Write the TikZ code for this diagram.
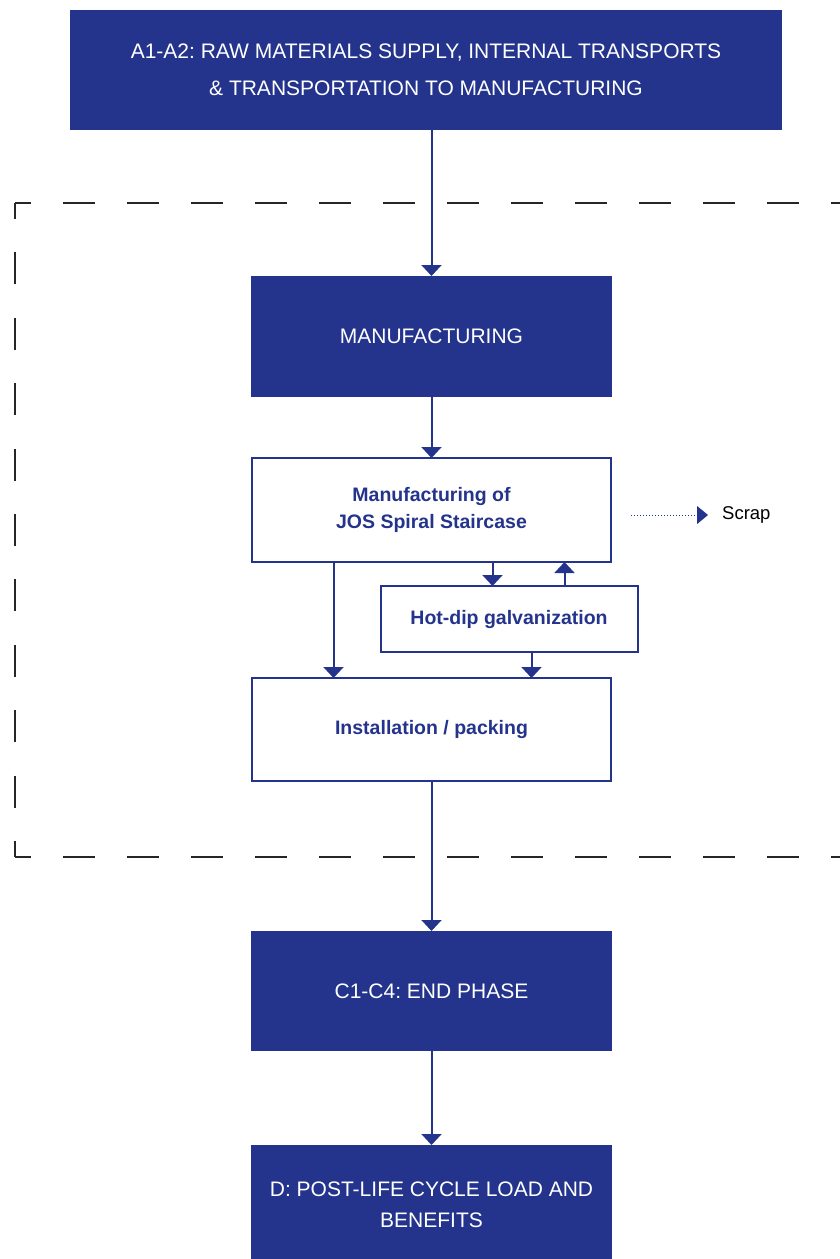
\documentclass[tikz,border=0pt]{standalone}
\usepackage{fontspec}
\setmainfont{Liberation Sans}
\usepackage{xcolor}
\usetikzlibrary{arrows.meta, positioning}
\definecolor{josblue}{RGB}{36,52,140}
\frenchspacing

\begin{document}
\begin{tikzpicture}[
    x=1pt, y=-1pt,
    % Estilos de nodos
    phase/.style={rectangle, fill=josblue, text=white, minimum width=361pt, minimum height=120pt, inner sep=0pt, outer sep=0pt, align=center, font=\fontsize{21}{31}\selectfont},
    stepbox/.style={rectangle, draw=josblue, line width=2pt, fill=white, text=josblue, minimum width=359pt, inner sep=0pt, outer sep=0pt, align=center, font=\bfseries\fontsize{19.5}{27}\selectfont},
    arrow/.style={draw=josblue, line width=2pt, -{Triangle[width=20pt, length=11pt]}},
    scrapline/.style={draw=josblue, line width=1pt, dash pattern=on 1pt off 2pt, -{Triangle[width=18pt, length=11pt, sep=-1pt]}},
    boundary/.style={line width=1.5pt, black!85}
]
\useasboundingbox (0,0) rectangle (840,1259);

% Limite del sistema
\draw[boundary, dash pattern=on 32pt off 32pt, dash phase=16pt] (15,203) -- (860,203);
\draw[boundary, dash pattern=on 32pt off 33.4pt, dash phase=16pt] (15,203) -- (15,857);
\draw[boundary, dash pattern=on 32pt off 32pt, dash phase=16pt] (15,857) -- (860,857);

% Fases
\node[phase, minimum width=712pt, font=\fontsize{21}{37}\selectfont] (supply) at (426,70) {A1-A2: RAW MATERIALS SUPPLY, INTERNAL TRANSPORTS\\\& TRANSPORTATION TO MANUFACTURING};
\node[phase, minimum height=121pt, below=146pt of supply, xshift=5.5pt] (manuf) {MANUFACTURING};

% Procesos
\node[stepbox, minimum height=104pt, below=61pt of manuf] (jos) {Manufacturing of\\JOS Spiral Staircase};
\node[stepbox, minimum width=257pt, minimum height=66pt, below=24pt of jos, xshift=77.5pt] (hotdip) {Hot-dip galvanization};
\node[stepbox, minimum height=103pt, below=116pt of jos] (install) {Installation / packing};

% Fases finales
\node[phase, below=150pt of install] (endphase) {C1-C4: END PHASE};
\node[phase, below=94pt of endphase] (postlife) {D: POST-LIFE CYCLE LOAD AND\\BENEFITS};

% Scrap
\coordinate (scrapstart) at (631,515);
\node[anchor=west, inner sep=0pt, font=\fontsize{18.5}{22}\selectfont] (scrap) at (722,515) {Scrap};

% Flechas
\draw[arrow] (supply.south -| manuf.north) -- (manuf.north);
\draw[arrow] (manuf) -- (jos);
\draw[arrow] ([xshift=-98pt]jos.south) -- ([xshift=-98pt]jos.south |- install.north);
\draw[arrow] ([xshift=-16.5pt]hotdip.north |- jos.south) -- ([xshift=-16.5pt]hotdip.north);
\draw[arrow] ([xshift=55.5pt]hotdip.north) -- ([xshift=55.5pt]hotdip.north |- jos.south);
\draw[arrow] ([xshift=22.5pt]hotdip.south) -- ([xshift=22.5pt]hotdip.south |- install.north);
\draw[arrow] (install) -- (endphase);
\draw[arrow] (endphase) -- (postlife);
\draw[scrapline] (scrapstart) -- ([xshift=-15pt]scrap.west);

\end{tikzpicture}
\end{document}
